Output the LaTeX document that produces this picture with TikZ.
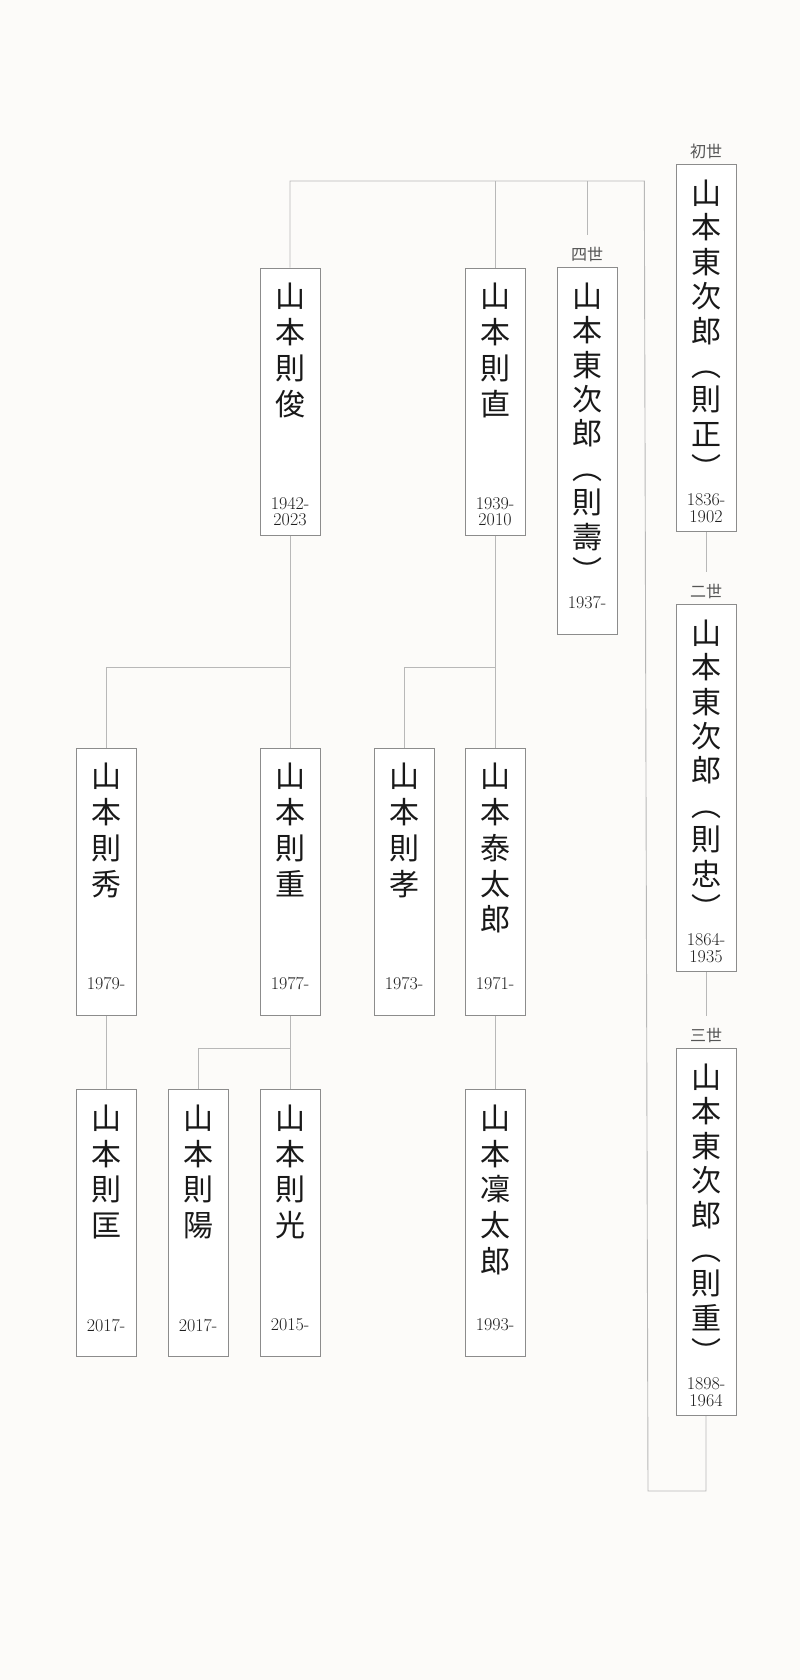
\documentclass[tikz,border=0pt]{standalone}
\usepackage{fontspec}
\newfontfamily\cjk{Noto Sans CJK JP}
\definecolor{paper}{HTML}{FCFBF9}
\definecolor{boxline}{HTML}{8C8C8C}
\definecolor{linkline}{HTML}{B8B8B8}
\definecolor{gentext}{HTML}{555555}

\begin{document}
\begin{tikzpicture}[x=1pt, y=-1pt,
  person/.style={draw=boxline, fill=white, line width=0.9pt,
    minimum width=60pt, inner sep=0pt, anchor=north},
  shortbox/.style={person, minimum height=267pt},
  tallbox/.style={person, minimum height=367pt},
  namechars/.style={font=\cjk\fontsize{30}{35.7}\selectfont, align=center,
    inner sep=0pt, anchor=north, yshift=-15.5pt, text=black!90,
    execute at begin node={\rule{0pt}{30pt}}},
  tallchars/.style={namechars, font=\cjk\fontsize{30}{34.4}\selectfont},
  years/.style={font=\fontsize{18}{16.7}\selectfont, align=center,
    inner sep=0pt, anchor=north, yshift=38.6pt, text=black!88},
  gen/.style={font=\cjk\fontsize{16}{16}\selectfont, text=gentext,
    inner sep=0pt, anchor=base, yshift=6.6pt},
  link/.style={draw=linkline, line width=0.9pt}]

\fill[paper] (0,0) rectangle (800,1680);
\useasboundingbox (0,0) rectangle (800,1680);

% Head of the line: 初世 to 四世
\node[tallbox,
  label={[gen, name=g1]north:初世},
  label={[tallchars]north:{山\\本\\東\\次\\郎\\︵\\則\\正\\︶}},
  label={[years]south:{1836-\\1902}}] (shodai) at (706,164.3) {};
\node[tallbox,
  label={[gen, name=g2]north:二世},
  label={[tallchars]north:{山\\本\\東\\次\\郎\\︵\\則\\忠\\︶}},
  label={[years]south:{1864-\\1935}}] (nidai) at (706,604) {};
\node[tallbox,
  label={[gen, name=g3]north:三世},
  label={[tallchars]north:{山\\本\\東\\次\\郎\\︵\\則\\重\\︶}},
  label={[years]south:{1898-\\1964}}] (sandai) at (706,1048.3) {};
\node[tallbox,
  label={[gen, name=g4]north:四世},
  label={[tallchars]north:{山\\本\\東\\次\\郎\\︵\\則\\壽\\︶}},
  label={[years]south:{1937-}}] (yonsei) at (587,267) {};

% Brothers of 四世
\node[shortbox,
  label={[namechars]north:{山\\本\\則\\俊}},
  label={[years]south:{1942-\\2023}}] (toshi) at (290,267.7) {};
\node[shortbox,
  label={[namechars]north:{山\\本\\則\\直}},
  label={[years]south:{1939-\\2010}}] (nao) at (495,267.7) {};

% Next generation
\node[shortbox,
  label={[namechars]north:{山\\本\\則\\秀}},
  label={[years]south:{1979-}}] (hide) at (106,747.7) {};
\node[shortbox,
  label={[namechars]north:{山\\本\\則\\重}},
  label={[years]south:{1977-}}] (shige) at (290,747.7) {};
\node[shortbox,
  label={[namechars]north:{山\\本\\則\\孝}},
  label={[years]south:{1973-}}] (taka) at (404,747.7) {};
\node[shortbox,
  label={[namechars]north:{山\\本\\泰\\太\\郎}},
  label={[years]south:{1971-}}] (taitaro) at (495,747.7) {};

% Youngest generation
\node[shortbox,
  label={[namechars]north:{山\\本\\則\\匡}},
  label={[years]south:{2017-}}] (masa) at (106,1089.3) {};
\node[shortbox,
  label={[namechars]north:{山\\本\\則\\陽}},
  label={[years]south:{2017-}}] (haru) at (198,1089.3) {};
\node[shortbox,
  label={[namechars]north:{山\\本\\則\\光}},
  label={[years]south:{2015-}}] (mitsu) at (290,1089.3) {};
\node[shortbox,
  label={[namechars]north:{山\\本\\凜\\太\\郎}},
  label={[years]south:{1993-}}] (rintaro) at (495,1089.3) {};

% Connectors
\coordinate (bar) at (644.3,181);
\coordinate (turn) at (648,1491);
\draw[link] (sandai.south) |- (turn) -- (bar) -| (toshi.north);
\draw[link] (nao.north) -- (nao.north |- bar);
\draw[link] ([yshift=12pt]g4.north) -- (g4.north |- bar);
\draw[link] (shodai.south) -- ([yshift=12pt]g2.north);
\draw[link] (nidai.south) -- ([yshift=12pt]g3.north);
\draw[link] (toshi.south) -- (shige.north);
\draw[link] (hide.north) |- ([yshift=80pt]shige.north);
\draw[link] (nao.south) -- (taitaro.north);
\draw[link] (taka.north) |- ([yshift=80pt]taitaro.north);
\draw[link] (hide.south) -- (masa.north);
\draw[link] (shige.south) -- (mitsu.north);
\draw[link] (haru.north) |- ([yshift=41pt]mitsu.north);
\draw[link] (taitaro.south) -- (rintaro.north);

\end{tikzpicture}
\end{document}
